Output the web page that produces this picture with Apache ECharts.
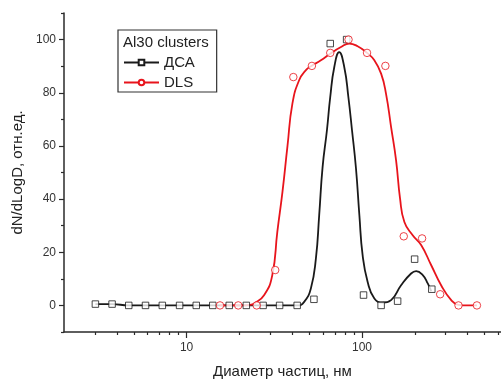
<!DOCTYPE html>
<html>
<head>
<meta charset="utf-8">
<script src="https://cdn.jsdelivr.net/npm/echarts@6/dist/echarts.min.js"></script>
<style>html,body{margin:0;padding:0;background:#fff}#c{width:501px;height:379px}</style>
</head>
<body>
<div id="c"></div>
<script>
// ---- data ----
const legendTitle = 'Al30 clusters';
const seriesNames = ['ДСА', 'DLS'];
// ДСА markers
const dsaX = [3.02, 3.76, 4.68, 5.83, 7.27, 9.12, 11.35, 14.1, 17.5, 21.9, 27.3, 33.9, 42.7, 53.2, 65.9, 81.7, 102, 128.5, 159.6, 199.5, 250];
const dsaY = [0.5, 0.5, 0, 0, 0, 0, 0, 0, 0, 0, 0, 0, 0, 2.3, 98.5, 100, 3.9, 0, 1.6, 17.4, 6.1];
// ДСА fitted curve
const dsaCurveX = [3.02, 3.76, 4.68, 10, 20, 35, 42.9, 46.8, 51.1, 54.6, 57, 59.6, 63.1, 65.9, 69.5, 74.1, 79.2, 83.6, 87.7, 92.4, 96.6, 100.8, 107.6, 117.6, 131.2, 146.5, 167, 190.5, 203.5, 222, 237, 248];
const dsaCurveY = [0.5, 0.5, 0, 0, 0, 0, 0, 1.35, 6.4, 17.7, 33.9, 52, 65.9, 78.4, 89.7, 95.3, 89.7, 78.4, 65.9, 51.5, 33.9, 18.9, 8.9, 2.6, 1.1, 2.0, 7.6, 12, 12.9, 11.4, 8.3, 5.4];
// DLS markers
const dlsX = [15.5, 19.7, 25.1, 32, 40.6, 51.8, 65.9, 83.8, 106.8, 135.9, 173, 220, 279, 355, 452];
const dlsY = [0, 0, 0, 13.3, 85.9, 90.1, 95, 100, 95, 90.1, 26, 25.2, 4.2, 0, 0];
// DLS fitted curve
const dlsCurveX = [15.5, 20, 23, 24.3, 27.7, 30.8, 32.9, 35.2, 37.6, 40.1, 43.8, 47.9, 51.5, 58.3, 65.9, 75.9, 84.6, 94.4, 106.8, 117.6, 128.5, 137, 146.5, 156.4, 164.8, 174.4, 194.5, 217.3, 247.7, 282.5, 322.5, 355, 400, 452];
const dlsCurveY = [0, 0, 0.2, 0.75, 3.9, 11.4, 27.7, 42.7, 60, 75.9, 84.7, 88.5, 90.1, 92.2, 94.7, 97.2, 98.5, 97.5, 95, 92.2, 87.2, 79.7, 67.1, 54.6, 40.2, 31.4, 26.4, 22.7, 15.2, 7.6, 2.0, 0.2, 0, 0];
// axis ticks
const xTicksMajor = [10, 100];
const xTicksMinor = [3, 4, 5, 6, 7, 8, 9, 20, 30, 40, 50, 60, 70, 80, 90, 200, 300, 400, 500, 600];
const yTicksMajor = [0, 20, 40, 60, 80, 100];
const yTicksMinor = [-10, 10, 30, 50, 70, 90, 110];
const xName = 'Диаметр частиц, нм';
const yName = 'dN/dLogD, отн.ед.';

// ---- chart ----
const FONT = '"Liberation Sans", Arial, Helvetica, sans-serif';
const AX = '#2a2a2a';
const BLACK = '#1a1a1a';
const RED = '#e8141c';
const zip = (a, b) => a.map((v, i) => [v, b[i]]);

const chart = echarts.init(document.getElementById('c'), null, {renderer: 'canvas'});
chart.setOption({
  animation: false,
  backgroundColor: '#fff',
  grid: {left: 64, right: 0, top: 13, bottom: 47, containLabel: false, outerBoundsMode: 'none'},
  xAxis: [{
    type: 'log', logBase: 10, min: 2, max: 620,
    name: xName, nameLocation: 'middle', nameGap: 32,
    nameTextStyle: {fontSize: 15, color: '#222', fontFamily: FONT},
    axisLine: {show: true, onZero: false, lineStyle: {color: AX, width: 1.5}},
    axisTick: {show: true, customValues: xTicksMajor, length: 6, lineStyle: {color: AX, width: 1.2}},
    axisLabel: {show: true, customValues: xTicksMajor, margin: 10, fontSize: 12, color: '#333', fontFamily: FONT},
    splitLine: {show: false}, minorTick: {show: false}
  }, {
    type: 'log', logBase: 10, min: 2, max: 620, position: 'bottom',
    axisLine: {show: false, onZero: false},
    axisTick: {show: true, customValues: xTicksMinor, length: 3, lineStyle: {color: AX, width: 1.2}},
    axisLabel: {show: false},
    splitLine: {show: false}
  }],
  yAxis: [{
    type: 'value', min: -10, max: 110,
    name: yName, nameLocation: 'middle', nameGap: 33,
    nameTextStyle: {fontSize: 15, color: '#222', fontFamily: FONT},
    axisLine: {show: true, onZero: false, lineStyle: {color: AX, width: 1.5}},
    axisTick: {show: true, customValues: yTicksMajor, length: 5, lineStyle: {color: AX, width: 1.2}},
    axisLabel: {show: true, customValues: yTicksMajor, margin: 8, fontSize: 12, color: '#333', fontFamily: FONT},
    splitLine: {show: false}
  }, {
    type: 'value', min: -10, max: 110, position: 'left',
    axisLine: {show: false, onZero: false},
    axisTick: {show: true, customValues: yTicksMinor, length: 3, lineStyle: {color: AX, width: 1.2}},
    axisLabel: {show: false},
    splitLine: {show: false}
  }],
  legend: {
    data: seriesNames, orient: 'vertical', left: 118, top: 30,
    padding: [25, 22, 2, 5], itemWidth: 35, itemHeight: 7, itemGap: 5,
    borderColor: '#333', borderWidth: 1.2, backgroundColor: '#fff',
    selectedMode: false,
    textStyle: {fontSize: 15, color: '#222', fontFamily: FONT, lineHeight: 14}
  },
  graphic: [{
    type: 'text', left: 123, top: 35, z: 100,
    style: {text: legendTitle, fontSize: 15, fill: '#222', fontFamily: FONT}
  }],
  series: [{
    name: seriesNames[0], type: 'line', data: zip(dsaCurveX, dsaCurveY),
    smooth: 0.5, showSymbol: false, symbol: 'rect', symbolSize: 6,
    itemStyle: {color: '#fff', borderColor: BLACK, borderWidth: 1},
    lineStyle: {color: BLACK, width: 1.8}, z: 2
  }, {
    name: seriesNames[1], type: 'line', data: zip(dlsCurveX, dlsCurveY),
    smooth: 0.5, showSymbol: false, symbol: 'circle', symbolSize: 6,
    itemStyle: {color: '#fff', borderColor: RED, borderWidth: 1},
    lineStyle: {color: RED, width: 1.8}, z: 3
  }, {
    name: seriesNames[0] + ' pts', type: 'scatter', data: zip(dsaX, dsaY),
    symbol: 'rect', symbolSize: 6.5,
    itemStyle: {color: '#fff', borderColor: BLACK, borderWidth: 1}, z: 4
  }, {
    name: seriesNames[1] + ' pts', type: 'scatter', data: zip(dlsX, dlsY),
    symbol: 'circle', symbolSize: 7.5,
    itemStyle: {color: '#fff', borderColor: RED, borderWidth: 1}, z: 5
  }]
});
</script>
</body>
</html>
